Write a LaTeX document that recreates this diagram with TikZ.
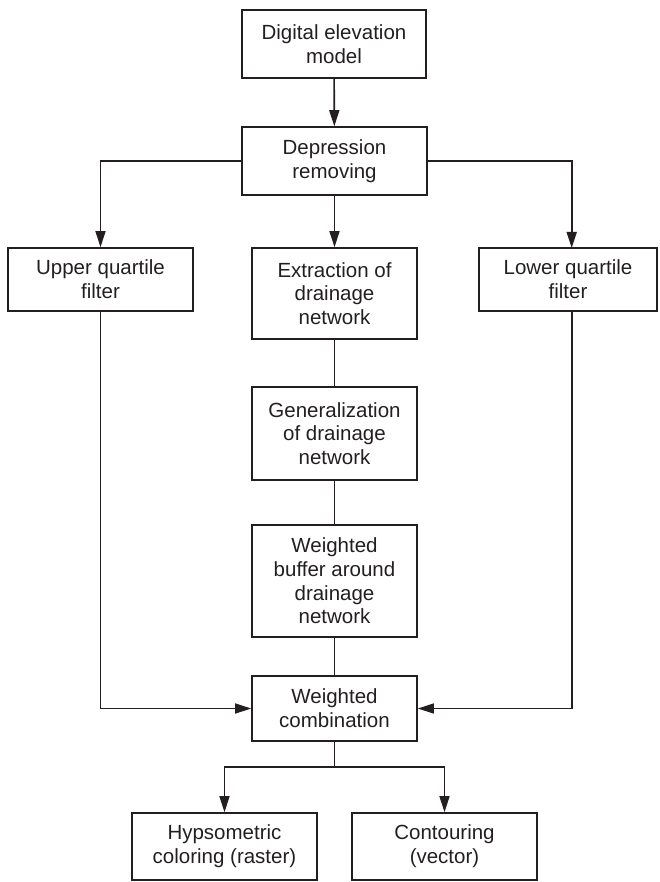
\documentclass[tikz,border=0pt]{standalone}
\usepackage{fontspec}
\setmainfont{Liberation Sans}
\usetikzlibrary{arrows.meta}
\definecolor{ink}{HTML}{231F20}
\begin{document}
\begin{tikzpicture}[x=1pt,y=-1pt,
  box/.style={draw=ink,line width=1.6pt,inner sep=0pt,align=center,text=ink,
    font=\fontsize{20.5}{23.7}\selectfont},
  link/.style={draw=ink,line width=1.6pt},
  arr/.style={link,-{Triangle[length=16pt,width=10pt]}}]
\useasboundingbox (0,0) rectangle (659,882);
\node[box,minimum width=184pt,minimum height=68pt] (dem) at (334,44) {Digital elevation\\model};
\node[box,minimum width=185pt,minimum height=68pt] (dr) at (334.5,161) {Depression\\removing};
\node[box,minimum width=185pt,minimum height=63pt] (uq) at (100.5,279.5) {Upper quartile\\filter};
\node[box,minimum width=165pt,minimum height=91pt] (ex) at (334.5,293.5) {Extraction of\\drainage\\network};
\node[box,minimum width=178pt,minimum height=63pt] (lq) at (568,279.5) {Lower quartile\\filter};
\node[box,minimum width=165pt,minimum height=93pt] (gen) at (334.5,433.5) {Generalization\\of drainage\\network};
\node[box,minimum width=165pt,minimum height=112pt] (wb) at (334.5,581) {Weighted\\buffer around\\drainage\\network};
\node[box,minimum width=165pt,minimum height=65pt] (wc) at (334.5,708.5) {Weighted\\combination};
\node[box,minimum width=185pt,minimum height=67pt] (hy) at (224.5,846.5) {Hypsometric\\coloring (raster)};
\node[box,minimum width=185pt,minimum height=67pt] (co) at (444.5,846.5) {Contouring\\(vector)};
\coordinate (lqx) at (571.7,248);
\coordinate (split) at (334.5,767);
\draw[arr] (dem) -- (dr);
\draw[arr] (dr.west) -| (uq.north);
\draw[arr] (dr.east) -| (lqx);
\draw[arr] (dr) -- (ex);
\draw[link] (ex) -- (gen);
\draw[link] (gen) -- (wb);
\draw[link] (wb) -- (wc);
\draw[arr] (uq.south) |- (wc.west);
\draw[arr] (lqx |- lq.south) |- (wc.east);
\draw[link] (wc.south) -- (split);
\draw[arr] (split) -| (hy.north);
\draw[arr] (split) -| (co.north);
\end{tikzpicture}
\end{document}
